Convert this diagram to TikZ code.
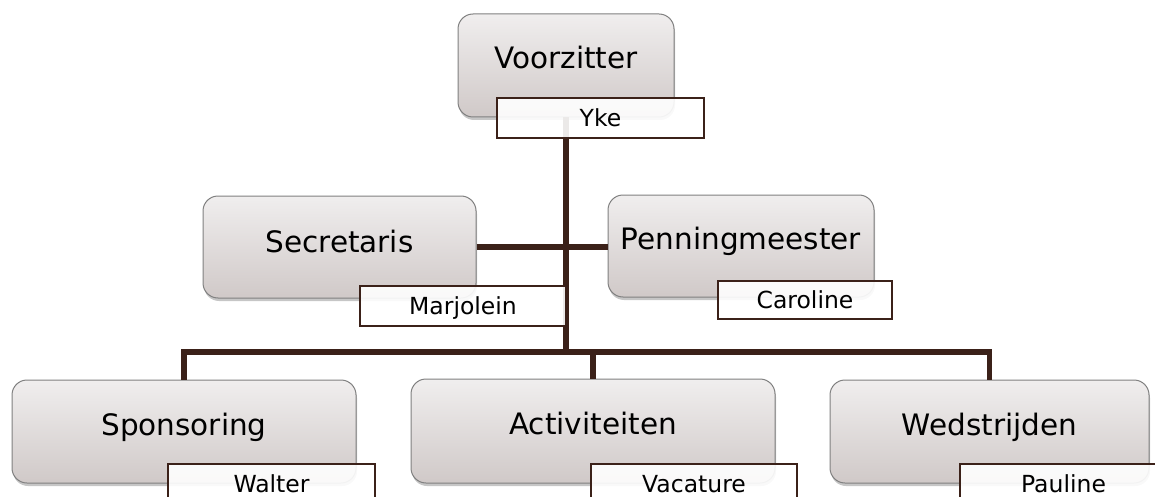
\documentclass[tikz,border=0pt]{standalone}
\usepackage{fontspec}
\setmainfont{DejaVu Sans}
\usetikzlibrary{shadows}
\definecolor{conn}{HTML}{3B2119}
\definecolor{boxtop}{HTML}{F0EEEE}
\definecolor{boxbot}{HTML}{D0C9C8}
\definecolor{boxline}{HTML}{808080}
\tikzset{
  unit/.style={rounded corners=15pt, draw=boxline, line width=1pt,
    top color=boxtop, bottom color=boxbot, inner sep=0pt,
    text height=21pt, text depth=0pt,
    font=\fontsize{29.5}{31}\selectfont,
    drop shadow={shadow xshift=1pt, shadow yshift=-3pt, opacity=0.45}},
  person/.style={draw=conn, line width=1.6pt, fill=white, fill opacity=0.9,
    text opacity=1, inner sep=0pt, minimum height=40pt,
    text height=17pt, text depth=0pt,
    font=\fontsize{23.5}{25}\selectfont},
  link/.style={draw=conn, line width=5.5pt}
}
\begin{document}
\begin{tikzpicture}[x=1pt, y=-1pt]
\useasboundingbox (0,0) rectangle (1155,497);
\clip (0,0) rectangle (1155,497);
\coordinate (bus) at (566,352);
% boxes
\node[unit, minimum width=216pt, minimum height=103pt] (vz)  at (566,65.5) {\raisebox{7pt}{Voorzitter}};
\node[unit, minimum width=273pt, minimum height=102pt] (sec) at (339.5,247) {\raisebox{5pt}{Secretaris}};
\node[unit, minimum width=266pt, minimum height=102pt] (pen) at (741,246) {\raisebox{7pt}{Penningmeester}};
\node[unit, minimum width=344pt, minimum height=103pt] (spo) at (184,431.5) {\raisebox{7pt}{Sponsoring}};
\node[unit, minimum width=364pt, minimum height=104pt] (act) at (593,431) {\raisebox{7pt}{Activiteiten}};
\node[unit, minimum width=319pt, minimum height=103pt] (wed) at (989.5,431.5) {\raisebox{7pt}{Wedstrijden}};
% connectors
\draw[link] (vz.south) -- (vz.south |- bus);
\draw[link] (sec.east) -- (sec.east -| pen.west);
\draw[link] (spo.north) -- (spo.north |- bus) -- (wed.north |- bus) -- (wed.north);
\draw[link] (act.north) -- (act.north |- bus);
% name labels
\node[person, minimum width=207pt] (vzp)  at (600.5,118) {Yke};
\node[person, minimum width=206pt] (secp) at (463,306) {Marjolein};
\node[person, minimum width=174pt, minimum height=38pt] (penp) at (805,300) {Caroline};
\node[person, minimum width=207pt] (spop) at (271.5,484) {Walter};
\node[person, minimum width=206pt] (actp) at (694,484) {Vacature};
\node[person, minimum width=207pt] (wedp) at (1063.5,484) {Pauline};
\end{tikzpicture}
\end{document}
